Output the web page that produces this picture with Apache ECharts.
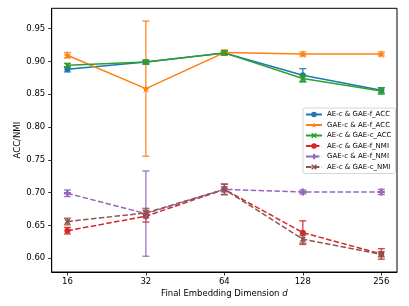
<!DOCTYPE html>
<html><head><meta charset="utf-8">
<script src="https://cdn.jsdelivr.net/npm/echarts@6/dist/echarts.min.js"></script>
<style>html,body{margin:0;padding:0;background:#fff}#c{width:409px;height:306px}</style>
</head><body><div id="c"></div>
<script>
const dims = ['16','32','64','128','256'];
const yTicks = [0.60,0.65,0.70,0.75,0.80,0.85,0.90,0.95];
const names = ['AE-c & GAE-f_ACC','GAE-c & AE-f_ACC','AE-c & GAE-c_ACC','AE-c & GAE-f_NMI','GAE-c & AE-f_NMI','AE-c & GAE-c_NMI'];
const aeGaeF_ACC  = [0.888,0.899,0.913,0.879,0.856];
const aeGaeF_ACC_err = [0.004,0.003,0.003,0.010,0.004];
const gaeAeF_ACC  = [0.9095,0.8585,0.9135,0.9115,0.9115];
const gaeAeF_ACC_err = [0.004,0.103,0.004,0.003,0.003];
const aeGaeC_ACC  = [0.894,0.899,0.913,0.874,0.855];
const aeGaeC_ACC_err = [0.003,0.003,0.003,0.005,0.005];
const aeGaeF_NMI  = [0.642,0.664,0.705,0.639,0.6065];
const aeGaeF_NMI_err = [0.005,0.009,0.008,0.018,0.008];
const gaeAeF_NMI  = [0.699,0.668,0.705,0.701,0.701];
const gaeAeF_NMI_err = [0.005,0.065,0.004,0.003,0.004];
const aeGaeC_NMI  = [0.656,0.669,0.705,0.629,0.606];
const aeGaeC_NMI_err = [0.005,0.007,0.008,0.006,0.004];

const vals = [aeGaeF_ACC,gaeAeF_ACC,aeGaeC_ACC,aeGaeF_NMI,gaeAeF_NMI,aeGaeC_NMI];
const errs = [aeGaeF_ACC_err,gaeAeF_ACC_err,aeGaeC_ACC_err,aeGaeF_NMI_err,gaeAeF_NMI_err,aeGaeC_NMI_err];
const colors = ['#1f77b4','#ff7f0e','#2ca02c','#d62728','#9467bd','#8c564b'];
const STAR='path://M0,-10 L2.35,-3.24 L9.51,-3.09 L3.8,1.24 L5.88,8.09 L0,4 L-5.88,8.09 L-3.8,1.24 L-9.51,-3.09 L-2.35,-3.24 Z';
const XF='path://M-10,-6 L-6,-10 L0,-4 L6,-10 L10,-6 L4,0 L10,6 L6,10 L0,4 L-6,10 L-10,6 L-4,0 Z';
const PLUS='path://M-3.5,-10 L3.5,-10 L3.5,-3.5 L10,-3.5 L10,3.5 L3.5,3.5 L3.5,10 L-3.5,10 L-3.5,3.5 L-10,3.5 L-10,-3.5 L-3.5,-3.5 Z';
const symbols = ['circle',STAR,XF,'circle',PLUS,XF];
const sizes = [6,8,6,6,7,6];

const series = [];
for (let i=0;i<6;i++){
  const c = colors[i];
  series.push({
    type:'line', name:names[i], z:2+i*2,
    data: vals[i].map((v,j)=>[j,v]),
    symbol: symbols[i], symbolSize: sizes[i],
    itemStyle:{color:c},
    lineStyle:{color:c,width:1.5,type: i<3?'solid':[5.5,2.4]},
    emphasis:{disabled:true}, animation:false
  });
  series.push({
    type:'custom', name:'err'+i, z:3+i*2,
    data: vals[i].map((v,j)=>[j,v,errs[i][j]]),
    renderItem:(params,api)=>{
      const x=api.value(0), y=api.value(1), e=api.value(2);
      const lo=api.coord([x,y-e]), hi=api.coord([x,y+e]);
      const st={stroke:c,lineWidth:1.4,opacity:0.85};
      return {type:'group',children:[
        {type:'line',shape:{x1:lo[0],y1:lo[1],x2:hi[0],y2:hi[1]},style:st},
        {type:'line',shape:{x1:lo[0]-3.5,y1:lo[1],x2:lo[0]+3.5,y2:lo[1]},style:st},
        {type:'line',shape:{x1:hi[0]-3.5,y1:hi[1],x2:hi[0]+3.5,y2:hi[1]},style:st}
      ]};
    },
    animation:false, silent:true
  });
}

const chart = echarts.init(document.getElementById('c'),null,{renderer:'canvas'});
const font = 'DejaVu Sans';
chart.setOption({
  animation:false,
  grid:{left:51.7,top:8.3,right:12,bottom:34,show:true,borderColor:'#000',borderWidth:1},
  legend:{
    data:names, orient:'vertical', left:303, top:108,
    itemWidth:16, itemHeight:7, itemGap:3.5,
    textStyle:{fontFamily:font,fontSize:7,color:'#000'},
    borderColor:'#cccccc', borderWidth:0.8, borderRadius:2, padding:[3,4,3,2],
    backgroundColor:'rgba(255,255,255,0.8)'
  },
  xAxis:{
    type:'value', min:-0.2, max:4.2,
    name:'Final Embedding Dimension {i|d}', nameLocation:'middle', nameGap:17, nameMoveOverlap:false,
    nameTextStyle:{fontFamily:font,fontSize:8.5,color:'#000',rich:{i:{fontFamily:font,fontSize:8.5,fontStyle:'italic'}}},
    axisLine:{show:true,onZero:false,lineStyle:{color:'#000',width:1}},
    splitLine:{show:false},
    axisTick:{show:true,inside:false,length:3.5,lineStyle:{color:'#000',width:0.8},customValues:[0,1,2,3,4]},
    axisLabel:{customValues:[0,1,2,3,4],formatter:v=>dims[Math.round(v)],fontFamily:font,fontSize:8.5,color:'#000',margin:5.5}
  },
  yAxis:{
    type:'value', min:0.579, max:0.981,
    name:'ACC/NMI', nameLocation:'middle', nameGap:29, nameMoveOverlap:false,
    nameTextStyle:{fontFamily:font,fontSize:8.5,color:'#000'},
    axisLine:{show:true,onZero:false,lineStyle:{color:'#000',width:1}},
    splitLine:{show:false},
    axisTick:{show:true,inside:false,length:3.5,lineStyle:{color:'#000',width:0.8},customValues:yTicks},
    axisLabel:{customValues:yTicks,formatter:v=>v.toFixed(2),fontFamily:font,fontSize:8.5,color:'#000',margin:6.5}
  },
  series:series
});
</script></body></html>
